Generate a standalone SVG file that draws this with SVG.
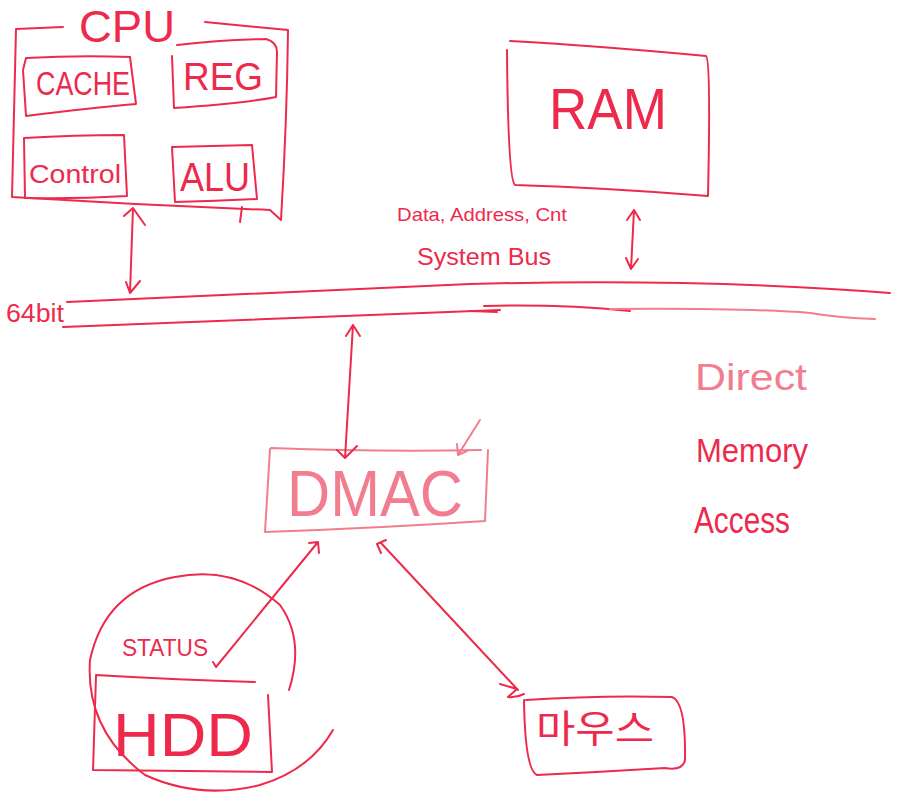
<svg xmlns="http://www.w3.org/2000/svg" width="909" height="794" viewBox="0 0 909 794">
<defs>
<style>
.s{fill:none;stroke:#ee2a4c;stroke-width:2;stroke-linecap:round;stroke-linejoin:round}
.p{fill:none;stroke:#f27d8f;stroke-width:2;stroke-linecap:round;stroke-linejoin:round}
.t{font-family:"Liberation Sans","Noto Sans CJK KR",sans-serif;fill:#ee2a4c;text-anchor:middle}
.tp{font-family:"Liberation Sans",sans-serif;fill:#f27d8f;text-anchor:middle}
</style>
</defs>
<rect width="909" height="794" fill="#ffffff"/>
<g id="cpu">
<path class="s" d="M63,27 L16,29 L12,197 Q140,205 270,210 L281,220 Q287,120 288,30 L205,22"/>
<text class="t" x="127" y="42" font-size="44" textLength="96" lengthAdjust="spacingAndGlyphs">CPU</text>
<path class="s" d="M242,207 L240,222"/>
</g>
<g id="cache">
<path class="s" d="M26,58 Q80,55 130,57 L136,104 Q90,108 26,116 L23,70 Z"/>
<text class="t" x="83" y="95" font-size="34" textLength="94" lengthAdjust="spacingAndGlyphs">CACHE</text>
</g>
<g id="reg">
<path class="s" d="M177,45 Q220,40 266,39 Q277,42 277,52 L276,97 Q240,104 174,108 L172,56"/>
<text class="t" x="223" y="90" font-size="38" textLength="80" lengthAdjust="spacingAndGlyphs">REG</text>
</g>
<g id="control">
<path class="s" d="M24,138 Q75,135 124,135 L127,196 Q75,199 25,198 Z"/>
<text class="t" x="75" y="183" font-size="26" textLength="92" lengthAdjust="spacingAndGlyphs">Control</text>
</g>
<g id="alu">
<path class="s" d="M172,147 L252,145 L257,199 Q215,201 175,202 Z"/>
<text class="t" x="215" y="191" font-size="40" textLength="70" lengthAdjust="spacingAndGlyphs">ALU</text>
</g>
<g id="ram">
<path class="s" d="M510,41 Q600,46 706,56 Q711,60 708,196 Q610,188 515,185 Q508,180 507,50"/>
<text class="t" x="608" y="129" font-size="58" textLength="118" lengthAdjust="spacingAndGlyphs">RAM</text>
</g>
<g id="bus">
<path class="s" d="M67,302 Q300,292 470,284 Q700,278 890,293"/>
<path class="s" d="M63,327 Q300,318 500,310"/>
<path class="s" d="M470,311 L497,312"/>
<path class="s" d="M484,306 Q560,304 630,311"/>
<path class="p" d="M610,309 Q750,308 810,313 Q840,318 875,319"/>
<text class="t" x="35" y="322" font-size="26" textLength="58" lengthAdjust="spacingAndGlyphs">64bit</text>
<text class="t" x="482" y="221" font-size="19" textLength="170" lengthAdjust="spacingAndGlyphs">Data, Address, Cnt</text>
<text class="t" x="484" y="265" font-size="24" textLength="134" lengthAdjust="spacingAndGlyphs">System Bus</text>
</g>
<g id="dmac">
<path class="p" d="M271,448 Q380,452 481,450 M488,450 L485,521 Q380,528 265,532 L270,449"/>
<text class="tp" x="375" y="516" font-size="64" textLength="176" lengthAdjust="spacingAndGlyphs">DMAC</text>
</g>
<g id="hdd">
<path class="s" d="M96,675 Q180,680 255,682 M268,695 L272,772 L93,770 L96,676"/>
<text class="t" x="183" y="756" font-size="62" textLength="140" lengthAdjust="spacingAndGlyphs">HDD</text>
<text class="t" x="165" y="656" font-size="24" textLength="86" lengthAdjust="spacingAndGlyphs">STATUS</text>
<path class="s" d="M289,690 Q305,640 280,605 Q235,565 175,577 Q105,590 90,660 Q85,730 145,775 Q200,800 260,785 Q310,770 333,730"/>
</g>
<g id="mouse">
<path class="s" d="M526,700 Q600,695 672,697 Q686,702 685,760 Q683,771 665,768 Q600,772 537,775 Q525,770 524,700"/>
<text class="t" x="595" y="742" font-size="38" textLength="118" lengthAdjust="spacingAndGlyphs">마우스</text>
</g>
<g id="dma-label">
<text class="tp" x="751" y="390" font-size="36" textLength="112" lengthAdjust="spacingAndGlyphs">Direct</text>
<text class="t" x="752" y="462" font-size="34" textLength="112" lengthAdjust="spacingAndGlyphs">Memory</text>
<text class="t" x="742" y="533" font-size="36" textLength="96" lengthAdjust="spacingAndGlyphs">Access</text>
</g>
<g id="connectors">
<path class="s" d="M133,208 L130,293 M124,216 L133,208 L145,225 M126,282 L130,293 L140,281"/>
<path class="s" d="M634,210 L631,269 M627,220 L634,210 L640,220 M626,258 L631,269 L638,259"/>
<path class="s" d="M353,325 L345,458 M346,336 L353,325 L360,336 M337,450 L345,458 L357,446"/>
<path class="p" d="M480,420 L458,455 M457,444 L458,455 L467,451"/>
<path class="s" d="M216,667 L318,542 M309,543 L318,542 L319,553 M216,667 L213,662"/>
<path class="s" d="M381,543 L518,690 M386,540 L377,544 L381,553 M500,684 L517,689 L508,697 Q516,698 524,694"/>
</g>
</svg>
